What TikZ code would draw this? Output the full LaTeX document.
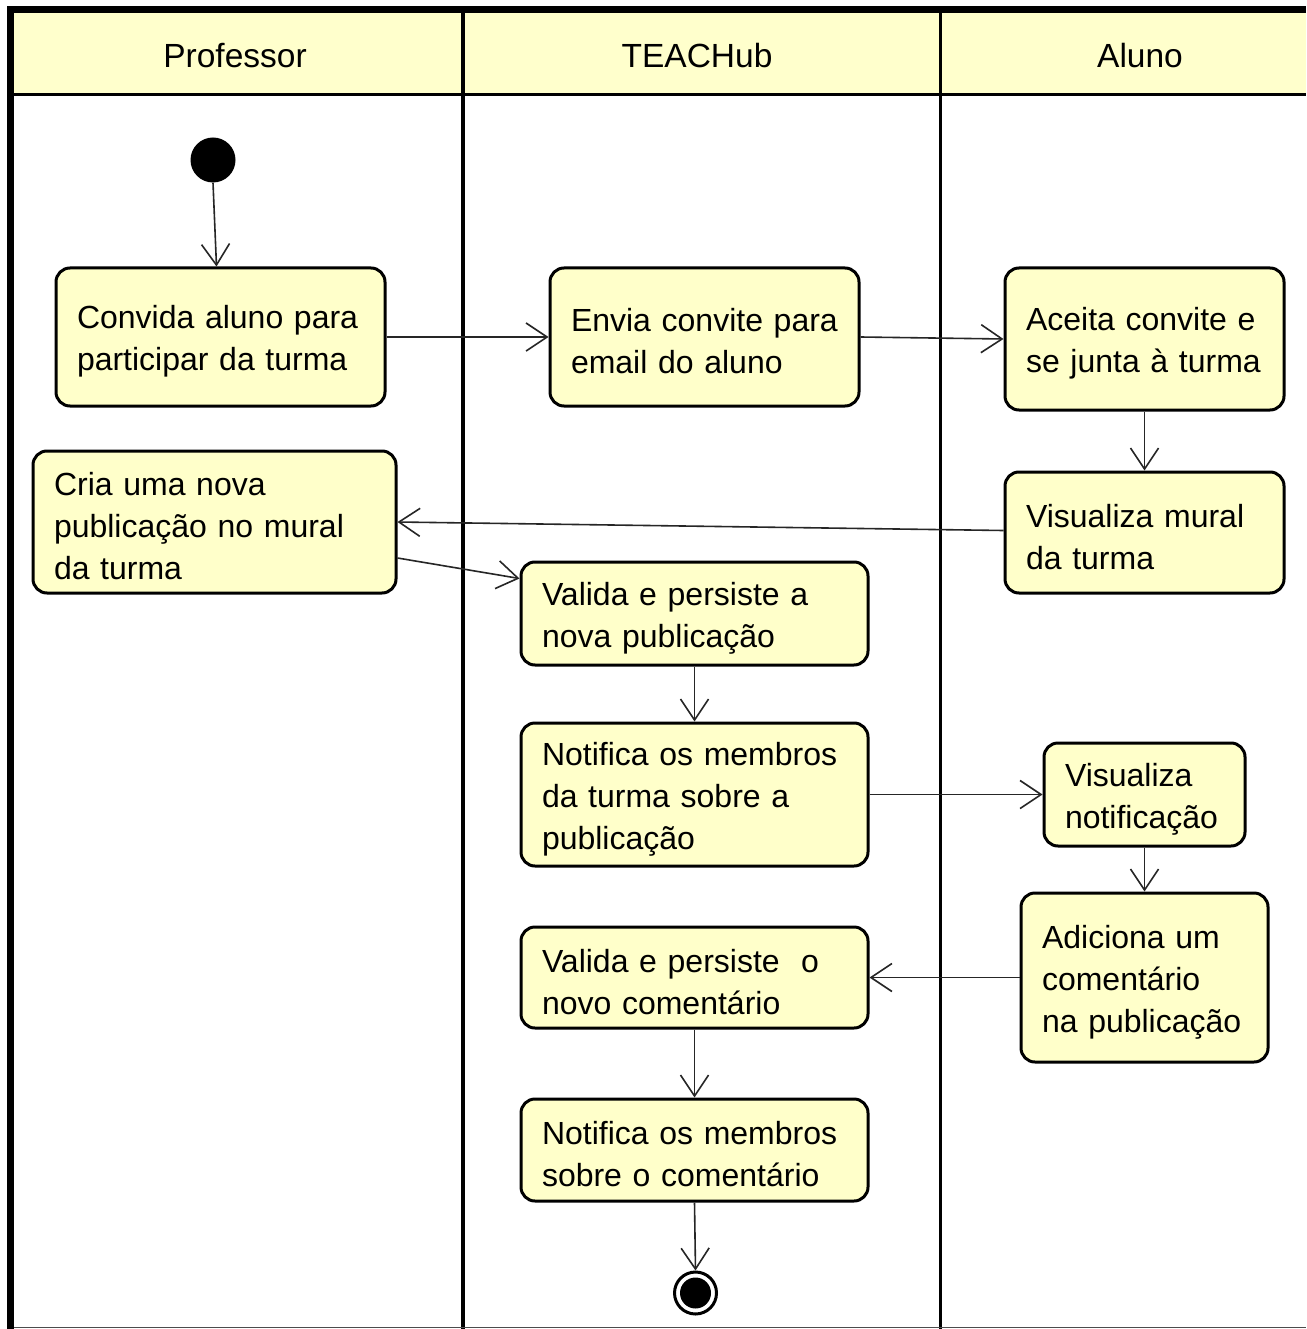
\documentclass[tikz,border=0pt]{standalone}
\usepackage{fontspec}
\setmainfont{Liberation Sans}
\usetikzlibrary{arrows.meta}
\definecolor{laneyellow}{HTML}{FFFFCC}
\definecolor{boxyellow}{HTML}{FFFFCA}
\begin{document}
\begin{tikzpicture}[x=1pt,y=-1pt,
  act/.style={draw=black, line width=3pt, fill=boxyellow, rounded corners=14pt,
    inner xsep=21pt, inner ysep=0pt, align=left,
    font=\fontsize{32}{42}\selectfont,
    execute at begin node={\rule{0pt}{32pt}}},
  flow/.style={draw=black!85, line width=1.6pt, -{Straight Barb[length=21pt,width=28pt]}},
  lanehead/.style={font=\fontsize{33.5}{40}\selectfont, inner sep=0pt},
  laneline/.style={line width=3.5pt, black}
]
\useasboundingbox (0,0) rectangle (1306,1329);
% background
\fill[white] (0,0) rectangle (1306,1329);
% header
\fill[laneyellow] (14,13) rectangle (1306,93);
\draw[laneline] (14,94.5) -- (1306,94.5);
\draw[laneline] (463,13) -- (463,1329);
\draw[laneline] (940.5,13) -- (940.5,1329);
\draw[line width=7pt, black] (7,10) -- (1306,10);
\draw[line width=7pt, black] (10.5,7) -- (10.5,1329);
\draw[line width=1.5pt, black!70] (14,1327.5) -- (1306,1327.5);
\node[lanehead] (hprof) at (235,56) {Professor};
\node[lanehead] (hteach) at (697,56) {TEACHub};
\node[lanehead] (haluno) at (1140,56) {Aluno};

% start
\node[circle, fill=black, minimum size=45pt, inner sep=0pt] (start) at (213,160) {};

% activities
\node[act, minimum width=329pt, minimum height=138pt, text width=287pt] (a1) at (220.5,337) {Convida aluno para\\participar da turma};
\node[act, minimum width=309pt, minimum height=138pt, text width=267pt] (a2) at (704.5,337) {Envia convite para\\email do aluno};
\node[act, minimum width=279pt, minimum height=142pt, text width=237pt] (a3) at (1144.5,339) {Aceita convite e\\se junta à turma};
\node[act, minimum width=279pt, minimum height=121pt, text width=237pt] (a4) at (1144.5,532.5) {Visualiza mural\\da turma};
\node[act, minimum width=363pt, minimum height=142pt, text width=321pt] (a5) at (214.5,522) {Cria uma nova\\publicação no mural\\da turma};
\node[act, minimum width=347pt, minimum height=103pt, text width=305pt] (a6) at (694.5,613.5) {Valida e persiste a\\nova publicação};
\node[act, minimum width=347pt, minimum height=143pt, text width=305pt] (a7) at (694.5,794.5) {Notifica os membros\\da turma sobre a\\publicação};
\node[act, minimum width=201pt, minimum height=103pt, text width=159pt] (a8) at (1144.5,794.5) {Visualiza\\notificação};
\node[act, minimum width=247pt, minimum height=169pt, text width=205pt] (a9) at (1144.5,977.5) {Adiciona um\\comentário\\na publicação};
\node[act, minimum width=347pt, minimum height=101pt, text width=305pt] (a10) at (694.5,977.5) {Valida e persiste~ o\\novo comentário};
\node[act, minimum width=347pt, minimum height=102pt, text width=305pt] (a11) at (694.5,1150) {Notifica os membros\\sobre o comentário};

% end
\node[circle, draw=black, line width=3pt, fill=white, minimum size=42pt, inner sep=0pt] (end) at (695.5,1293) {};
\fill[black] (end.center) circle (15.5pt);

% flows
\draw[flow] (start.south) -- ([xshift=-4pt]a1.north);
\draw[flow] (a1.east) -- (a2.west);
\draw[flow] (a2.east) -- (a3.west);
\draw[flow] (a3.south) -- (a4.north);
\draw[flow] ([yshift=2pt]a4.west) -- (a5.east);
\draw[flow] ([yshift=-36pt]a5.east) -- ([yshift=35pt]a6.west);
\draw[flow] (a6.south) -- (a7.north);
\draw[flow] (a7.east) -- (a8.west);
\draw[flow] (a8.south) -- (a9.north);
\draw[flow] (a9.west) -- (a10.east);
\draw[flow] (a10.south) -- (a11.north);
\draw[flow] (a11.south) -- (end.north);
\end{tikzpicture}
\end{document}
